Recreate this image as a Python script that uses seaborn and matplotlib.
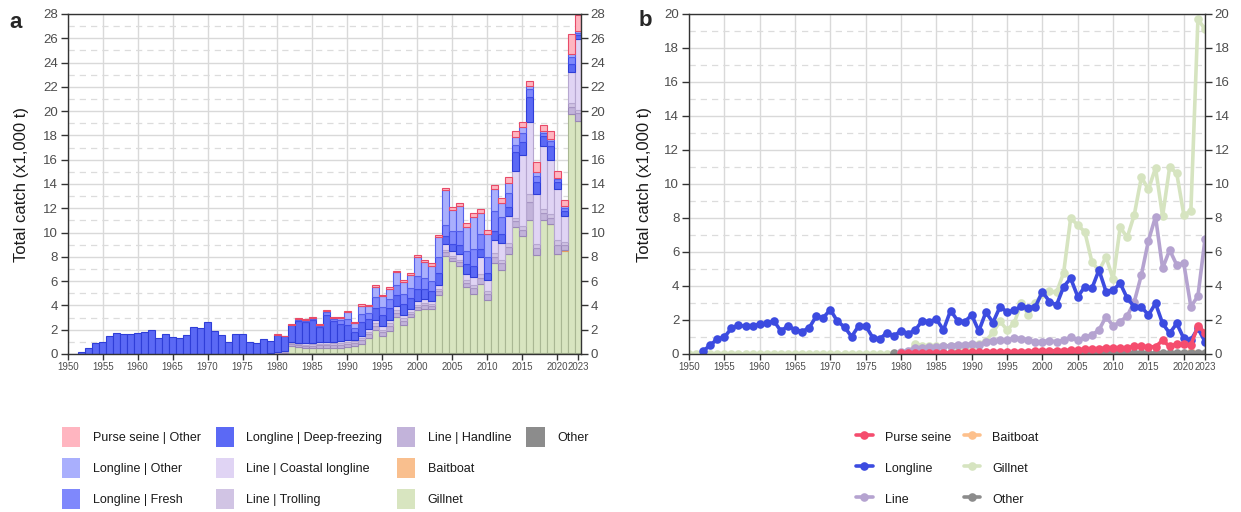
import numpy as np
import pandas as pd
import matplotlib
matplotlib.use("Agg")
import matplotlib.pyplot as plt
import seaborn as sns
from matplotlib.patches import Patch
from matplotlib.lines import Line2D
from matplotlib.ticker import MultipleLocator, FixedLocator
import matplotlib.colors as mcolors

nan = np.nan
years = list(range(1950, 2024))

# ---------------- data (x1,000 t) ----------------
longline_deepfreezing = [
    nan, nan, 0.17, 0.52, 0.88, 0.99, 1.51, 1.70, 1.62, 1.65,
    1.76, 1.81, 1.95, 1.35, 1.65, 1.43, 1.32, 1.54, 2.22, 2.14,
    2.61, 1.92, 1.59, 1.02, 1.65, 1.65, 0.96, 0.88, 1.26, 1.05,
    1.38, 1.20, 1.40, 1.80, 1.70, 1.85, 1.30, 2.25, 1.70, 1.45,
    1.25, 0.65, 1.10, 0.75, 1.05, 0.90, 0.95, 0.95, 0.85, 0.90,
    1.05, 0.85, 0.80, 1.05, 0.70, 0.65, 0.75, 0.80, 0.85, 0.70,
    0.60, 0.75, 0.70, 0.80, 1.50, 1.10, 2.10, 1.00, 0.75, 1.20,
    0.60, 0.45, 0.70, 0.35]
longline_fresh = [
    0.0, 0.0, 0.0, 0.0, 0.0, 0.0, 0.0, 0.0, 0.0, 0.0,
    0.0, 0.0, 0.0, 0.0, 0.0, 0.0, 0.0, 0.0, 0.0, 0.0,
    0.0, 0.0, 0.0, 0.0, 0.0, 0.0, 0.0, 0.0, 0.0, 0.0,
    0.0, 0.0, 0.0, 0.10, 0.12, 0.12, 0.08, 0.20, 0.17, 0.25,
    0.50, 0.35, 0.70, 0.55, 0.85, 0.70, 0.75, 0.80, 0.85, 0.80,
    1.05, 0.90, 0.85, 1.30, 0.85, 1.00, 1.20, 1.10, 1.40, 1.20,
    1.30, 1.60, 1.40, 1.10, 0.60, 0.70, 0.60, 0.50, 0.27, 0.40,
    0.20, 0.22, 0.55, 0.18]
longline_other = [
    0.0, 0.0, 0.0, 0.0, 0.0, 0.0, 0.0, 0.0, 0.0, 0.0,
    0.0, 0.0, 0.0, 0.0, 0.0, 0.0, 0.0, 0.0, 0.0, 0.0,
    0.0, 0.0, 0.0, 0.0, 0.0, 0.0, 0.0, 0.0, 0.0, 0.0,
    0.0, 0.0, 0.0, 0.06, 0.08, 0.08, 0.03, 0.10, 0.10, 0.20,
    0.54, 0.35, 0.66, 0.55, 0.88, 0.87, 0.87, 1.05, 1.03, 1.08,
    1.57, 1.33, 1.23, 1.61, 2.90, 1.72, 2.01, 1.96, 2.69, 1.77,
    1.86, 1.81, 1.18, 0.88, 0.68, 0.49, 0.28, 0.30, 0.20, 0.20,
    0.12, 0.15, 0.26, 0.20]
line_handline = [
    nan, nan, nan, nan, nan, nan, nan, nan, nan, nan,
    nan, nan, nan, nan, nan, nan, nan, nan, nan, nan,
    nan, nan, nan, nan, nan, nan, nan, nan, nan, nan,
    0.06, 0.10, 0.16, 0.18, 0.18, 0.20, 0.20, 0.22, 0.25, 0.25,
    0.27, 0.25, 0.30, 0.33, 0.35, 0.33, 0.40, 0.38, 0.35, 0.28,
    0.30, 0.32, 0.30, 0.33, 0.30, 0.30, 0.35, 0.38, 0.45, 0.55,
    0.50, 0.50, 0.55, 0.55, 0.50, 0.50, 1.50, 0.60, 0.55, 0.50,
    0.70, 0.45, 0.60, 0.65]
line_trolling = [
    nan, nan, nan, nan, nan, nan, nan, nan, nan, nan,
    nan, nan, nan, nan, nan, nan, nan, nan, nan, nan,
    nan, nan, nan, nan, nan, nan, nan, nan, nan, nan,
    0.03, 0.05, 0.09, 0.10, 0.10, 0.10, 0.12, 0.13, 0.15, 0.15,
    0.15, 0.15, 0.18, 0.20, 0.20, 0.20, 0.25, 0.22, 0.20, 0.15,
    0.15, 0.16, 0.15, 0.17, 0.18, 0.15, 0.20, 0.22, 0.25, 0.30,
    0.25, 0.30, 0.30, 0.30, 0.28, 0.30, 0.70, 0.35, 0.35, 0.30,
    0.40, 0.25, 0.30, 0.25]
line_coastal = [
    nan, nan, nan, nan, nan, nan, nan, nan, nan, nan,
    nan, nan, nan, nan, nan, nan, nan, nan, nan, nan,
    nan, nan, nan, nan, nan, nan, nan, nan, nan, nan,
    0.03, 0.05, 0.10, 0.10, 0.12, 0.12, 0.13, 0.15, 0.15, 0.15,
    0.18, 0.15, 0.22, 0.25, 0.25, 0.27, 0.30, 0.30, 0.30, 0.25,
    0.28, 0.30, 0.27, 0.32, 0.50, 0.37, 0.43, 0.52, 0.71, 1.35,
    0.90, 1.10, 1.39, 2.23, 3.87, 5.87, 5.88, 4.09, 5.22, 4.44,
    4.23, 2.08, 2.51, 5.85]
purse_seine = [
    nan, nan, nan, nan, nan, nan, nan, nan, nan, nan,
    nan, nan, nan, nan, nan, nan, nan, nan, nan, nan,
    nan, nan, nan, nan, nan, nan, nan, nan, nan, nan,
    0.05, 0.05, 0.06, 0.06, 0.07, 0.07, 0.08, 0.08, 0.08, 0.09,
    0.10, 0.10, 0.10, 0.12, 0.12, 0.12, 0.13, 0.14, 0.14, 0.15,
    0.18, 0.18, 0.20, 0.20, 0.22, 0.25, 0.28, 0.30, 0.32, 0.35,
    0.38, 0.35, 0.38, 0.45, 0.47, 0.42, 0.43, 0.80, 0.45, 0.60,
    0.58, 0.52, 1.65, 1.26]
baitboat = [
    nan, nan, nan, nan, nan, nan, nan, nan, nan, nan,
    nan, nan, nan, nan, nan, nan, nan, nan, nan, nan,
    nan, nan, nan, nan, nan, nan, nan, nan, nan, nan,
    0.0, 0.0, 0.0, 0.0, 0.0, 0.0, 0.0, 0.0, 0.0, 0.0,
    0.0, 0.0, 0.0, 0.0, 0.0, 0.0, 0.0, 0.0, 0.0, 0.0,
    0.0, 0.0, 0.0, 0.0, 0.0, 0.0, 0.0, 0.0, 0.0, 0.0,
    0.0, 0.0, 0.0, 0.0, 0.0, 0.0, 0.0, 0.0, 0.0, 0.01,
    0.02, 0.10, 0.02, 0.01]
gillnet = [
    0.0, 0.0, 0.0, 0.0, 0.0, 0.0, 0.0, 0.0, 0.0, 0.0,
    0.0, 0.0, 0.0, 0.0, 0.0, 0.0, 0.0, 0.0, 0.0, 0.0,
    0.0, 0.0, 0.0, 0.0, 0.0, 0.0, 0.0, 0.0, 0.0, 0.0,
    0.0, 0.0, 0.60, 0.50, 0.45, 0.45, 0.45, 0.45, 0.42, 0.45,
    0.50, 0.58, 0.76, 1.27, 1.92, 1.42, 1.82, 2.98, 2.32, 2.98,
    3.55, 3.68, 3.62, 4.78, 8.00, 7.58, 7.18, 5.42, 4.90, 5.70,
    4.40, 7.45, 6.86, 8.20, 10.40, 9.68, 10.95, 8.10, 11.00, 10.63,
    8.20, 8.40, 19.70, 19.10]
other = [
    nan, nan, nan, nan, nan, nan, nan, nan, nan, nan,
    nan, nan, nan, nan, nan, nan, nan, nan, nan, nan,
    nan, nan, nan, nan, nan, nan, nan, nan, nan, 0.05,
    0.06, 0.05, 0.05, 0.06, 0.05, 0.05, 0.06, 0.05, 0.05, 0.06,
    0.05, 0.05, 0.06, 0.05, 0.05, 0.06, 0.05, 0.05, 0.06, 0.05,
    0.05, 0.06, 0.05, 0.05, 0.06, 0.05, 0.05, 0.06, 0.05, 0.05,
    0.06, 0.05, 0.05, 0.06, 0.05, 0.05, 0.06, 0.05, 0.05, 0.06,
    0.05, 0.05, 0.06, 0.05]

x_ticks = [1950, 1955, 1960, 1965, 1970, 1975, 1980, 1985, 1990, 1995,
           2000, 2005, 2010, 2015, 2020, 2023]

# ---------------- styles ----------------
fleet_order = ["Purse seine | Other", "Longline | Other", "Longline | Fresh",
               "Longline | Deep-freezing", "Line | Coastal longline", "Line | Trolling",
               "Line | Handline", "Baitboat", "Gillnet", "Other"]
fleet_values = [purse_seine, longline_other, longline_fresh, longline_deepfreezing,
                line_coastal, line_trolling, line_handline, baitboat, gillnet, other]
fill_cols = {
    "Purse seine | Other": "#ffb5c0",
    "Longline | Other": "#a9affd",
    "Longline | Fresh": "#7f88fc",
    "Longline | Deep-freezing": "#5b69f5",
    "Line | Coastal longline": "#e0d4f4",
    "Line | Trolling": "#d1c4e4",
    "Line | Handline": "#c2b3da",
    "Baitboat": "#f9bf8e",
    "Gillnet": "#d8e5c0",
    "Other": "#8c8c8c",
}
edge_cols = {
    "Purse seine | Other": "#e84a68",
    "Longline | Other": "#5560ea",
    "Longline | Fresh": "#3f4ce6",
    "Longline | Deep-freezing": "#2f3ed8",
    "Line | Coastal longline": "#b6a7d0",
    "Line | Trolling": "#a896c4",
    "Line | Handline": "#9a88b8",
    "Baitboat": "#e89a5c",
    "Gillnet": "#a9b793",
    "Other": "#666666",
}
gear_cols = {
    "Purse seine": "#f54d6e",
    "Longline": "#3c4be0",
    "Line": "#b5a3d0",
    "Baitboat": "#fdc08c",
    "Gillnet": "#d6e4c0",
    "Other": "#8c8c8c",
}

sns.set_theme(style="white")
plt.rcParams['font.family'] = ['Liberation Sans', 'DejaVu Sans']

W, H = 1241, 512
fig = plt.figure(figsize=(W / 100, H / 100), dpi=100)
fig.patch.set_facecolor("white")


def px_axes(x0, x1, y0, y1):
    return [x0 / W, 1 - y1 / H, (x1 - x0) / W, (y1 - y0) / H]


axA = fig.add_axes(px_axes(67.7, 581, 14, 354))
axB = fig.add_axes(px_axes(689, 1205, 14, 354))

# ---------------- panel a: stacked bars ----------------
rows = []
for name, vals in zip(fleet_order, fleet_values):
    for y, v in zip(years, vals):
        rows.append({"year": y, "fleet": name, "catch": 0.0 if np.isnan(v) else v})
df_a = pd.DataFrame(rows)

sns.histplot(data=df_a, x="year", weights="catch", hue="fleet", hue_order=fleet_order,
             multiple="stack", discrete=True, shrink=1.0, palette=fill_cols, alpha=1,
             linewidth=0.8, legend=False, ax=axA)

rgb_to_name = {tuple(np.round(mcolors.to_rgb(c), 3)): n for n, c in fill_cols.items()}
for p in axA.patches:
    if p.get_height() <= 1e-9:
        p.set_visible(False)
        continue
    key = tuple(np.round(p.get_facecolor()[:3], 3))
    name = rgb_to_name.get(key)
    if name is not None:
        p.set_edgecolor(edge_cols[name])
    p.set_linewidth(0.8)

# ---------------- panel b: lines ----------------
line_total = [a + b + c for a, b, c in zip(line_handline, line_trolling, line_coastal)]
longline_total = [a + b + c for a, b, c in zip(longline_deepfreezing, longline_fresh, longline_other)]
gear_series = {
    "Purse seine": purse_seine,
    "Longline": longline_total,
    "Line": line_total,
    "Baitboat": baitboat,
    "Gillnet": gillnet,
    "Other": other,
}
draw_order = ["Baitboat", "Gillnet", "Other", "Line", "Longline", "Purse seine"]
for name in draw_order:
    d = pd.DataFrame({"year": years, "catch": gear_series[name]}).dropna()
    sns.lineplot(data=d, x="year", y="catch", color=gear_cols[name], linewidth=2.6,
                 marker="o", markersize=6.2, markeredgewidth=0, ax=axB, legend=False)


def style(ax, ymax, xmax, label_x):
    ax.set_xlim(1950, xmax)
    ax.set_ylim(0, ymax)
    ax.xaxis.set_major_locator(FixedLocator(x_ticks))
    ax.set_xticklabels([str(t) for t in x_ticks])
    ax.yaxis.set_major_locator(MultipleLocator(2))
    ax.yaxis.set_minor_locator(MultipleLocator(1))
    ax.grid(which='major', axis='both', color='#d9d9d9', lw=1.0)
    ax.grid(which='minor', axis='y', color='#dcdcdc', lw=0.9, ls=(0, (5, 4)))
    ax.set_axisbelow(True)
    for s in ax.spines.values():
        s.set_visible(True)
        s.set_color('#333333')
        s.set_linewidth(1.0)
    ax.tick_params(axis='y', which='major', left=True, right=True, labelleft=True,
                   labelright=True, length=5, width=1, color='#333333', labelsize=9.5,
                   labelcolor='#4d4d4d', pad=2)
    ax.tick_params(axis='y', which='minor', left=False, right=False, length=0)
    ax.tick_params(axis='x', which='major', bottom=True, length=4, width=1,
                   color='#333333', labelsize=7, labelcolor='#4d4d4d', pad=1.5)
    ax.set_xlabel('')
    ax.set_ylabel('Total catch (x1,000 t)', fontsize=12, color='#1a1a1a')
    ax.yaxis.set_label_coords(label_x, 0.5)


style(axA, 28, 2023.4, (29 - 67.7) / (581 - 67.7))
style(axB, 20, 2023, (652 - 689) / (1205 - 689))

fig.text(16 / W, 1 - 22 / H, "a", fontsize=16, fontweight='bold', ha='center', va='center')
fig.text(645 / W, 1 - 20 / H, "b", fontsize=16, fontweight='bold', ha='center', va='center')

# ---------------- legends ----------------
handles_a = [Patch(facecolor=fill_cols[n], edgecolor='none') for n in fleet_order]
labels_a = list(fleet_order)
# two empty slots so the fourth column holds only "Other" (3 + 3 + 3 + 1 layout)
handles_a += [Patch(facecolor='none', edgecolor='none'), Patch(facecolor='none', edgecolor='none')]
labels_a += ["", ""]
fig.legend(handles_a, labels_a, ncol=4, loc='upper left',
           bbox_to_anchor=(62 / W, 1 - 427 / H), bbox_transform=fig.transFigure,
           frameon=False, fontsize=9, handlelength=1.45, handleheight=2.09,
           handletextpad=1.0, columnspacing=1.2, labelspacing=0.88,
           borderpad=0, borderaxespad=0, labelcolor='#1a1a1a')

gear_order = ["Purse seine", "Longline", "Line", "Baitboat", "Gillnet", "Other"]
handles_b = [Line2D([0], [0], color=gear_cols[n], lw=2.6, marker='o', markersize=6.2,
                    markeredgewidth=0) for n in gear_order]
fig.legend(handles_b, gear_order, ncol=2, loc='upper left',
           bbox_to_anchor=(856 / W, 1 - 429 / H), bbox_transform=fig.transFigure,
           frameon=False, fontsize=9, handlelength=1.35, handleheight=1.5,
           handletextpad=0.95, columnspacing=1.0, labelspacing=1.26, numpoints=1,
           borderpad=0, borderaxespad=0, labelcolor='#1a1a1a')

fig.savefig("out.png", dpi=100, facecolor="white")
